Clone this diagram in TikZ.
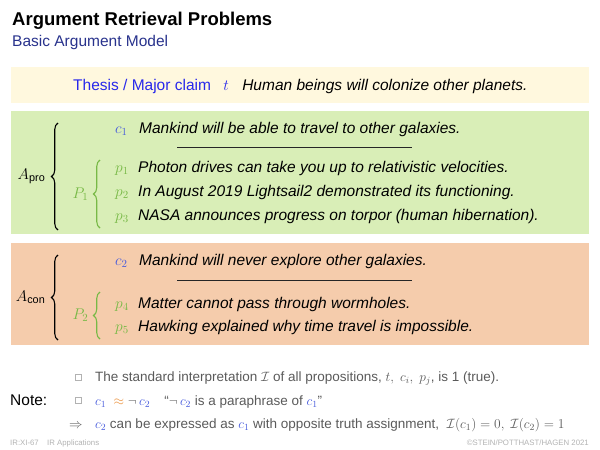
\documentclass[tikz,border=0pt]{standalone}
\usepackage{fix-cm}
\usepackage{amsmath, amssymb}
\usepackage{fontspec}
\setmainfont{Liberation Sans}
\setsansfont{Liberation Sans}
\usetikzlibrary{positioning, shadows, decorations.pathreplacing}

\definecolor{thesisbg}{RGB}{255,248,222}
\definecolor{probg}{RGB}{217,238,183}
\definecolor{conbg}{RGB}{245,204,172}
\definecolor{claimblue}{RGB}{40,40,235}
\definecolor{labelblue}{RGB}{70,90,220}
\definecolor{premgreen}{RGB}{120,185,70}
\definecolor{subblue}{RGB}{40,50,140}
\definecolor{notegray}{RGB}{90,90,90}
\definecolor{approxorange}{RGB}{235,150,70}

\begin{document}
\begin{tikzpicture}[x=1pt, y=-1pt,
    stmt/.style={anchor=base west, inner sep=0pt, font=\fontsize{15.5}{18}\selectfont\itshape},
    tag/.style={anchor=base west, inner sep=0pt, font=\fontsize{15.5}{18}\selectfont},
    grouplabel/.style={inner sep=0pt, font=\fontsize{15.5}{18}\selectfont},
    groupbrace/.style={decorate, decoration={brace, amplitude=6.5pt}, line width=1.1pt},
    notetext/.style={anchor=base west, inner sep=0pt, text=notegray,
                     font=\fontsize{13.5}{16}\selectfont},
    notebox/.style={draw=gray!60, fill=white, line width=0.5pt, minimum size=6pt, inner sep=0pt,
                    drop shadow={shadow xshift=0.9pt, shadow yshift=-0.9pt, fill=black!55, opacity=1}},
    foot/.style={inner sep=0pt, text=gray!60, font=\fontsize{7.8}{9}\selectfont},
    claimrule/.style={line width=1pt, black!85}
]
    \useasboundingbox (0,0) rectangle (600,450);

    % slide heading
    \node[anchor=base west, inner sep=0pt, font=\fontsize{18.5}{22}\selectfont\bfseries]
        (title) at (12,25) {Argument Retrieval Problems};
    \node[anchor=base west, inner sep=0pt, text=subblue, font=\fontsize{15.5}{18}\selectfont]
        (subtitle) at (12,46) {Basic Argument Model};

    % thesis
    \fill[thesisbg] (11,67) rectangle (589,103);
    \node[tag, text=claimblue] (thesis) at (73,90.5) {Thesis / Major claim};
    \node[tag, text=claimblue, base right=12pt of thesis] (t) {$t$};
    \node[stmt, base right=13pt of t] (thesistext) {Human beings will colonize other planets.};

    % pro argument
    \fill[probg] (11,111) rectangle (589,234);
    \node[tag, text=labelblue] (c1) at (115,133) {$c_1$};
    \node[stmt] (c1text) at (139,133) {Mankind will be able to travel to other galaxies.};
    \coordinate (c1rule west) at (177,147);
    \coordinate (c1rule east) at (412,147);
    \draw[claimrule] (c1rule west) -- (c1rule east);

    \node[tag, text=premgreen] (p1) at (115,172) {$p_1$};
    \node[stmt] (p1text) at (138,172) {Photon drives can take you up to relativistic velocities.};
    \node[tag, text=premgreen] (p2) at (115,196) {$p_2$};
    \node[stmt] (p2text) at (138,196) {In August 2019 Lightsail2 demonstrated its functioning.};
    \node[tag, text=premgreen] (p3) at (115,220) {$p_3$};
    \node[stmt] (p3text) at (138,220) {NASA announces progress on torpor (human hibernation).};

    \coordinate (P1 low) at (100,228);
    \coordinate (P1 high) at (100,160);
    \coordinate (P1 tip) at (93.5,194);
    \draw[groupbrace, premgreen] (P1 low) -- (P1 high);
    \node[grouplabel, text=premgreen, left=5pt of P1 tip] (P1) {$P_1$};

    \coordinate (Apro low) at (58,230);
    \coordinate (Apro high) at (58,123);
    \coordinate (Apro tip) at (51.5,176.5);
    \draw[groupbrace] (Apro low) -- (Apro high);
    \node[grouplabel, left=6pt of Apro tip] (Apro) {$A_{\text{pro}}$};

    % con argument
    \fill[conbg] (11,243) rectangle (589,345);
    \node[tag, text=labelblue] (c2) at (115,265) {$c_2$};
    \node[stmt] (c2text) at (139,265) {Mankind will never explore other galaxies.};
    \coordinate (c2rule west) at (177,280);
    \coordinate (c2rule east) at (412,280);
    \draw[claimrule] (c2rule west) -- (c2rule east);

    \node[tag, text=premgreen] (p4) at (115,308) {$p_4$};
    \node[stmt] (p4text) at (138,308) {Matter cannot pass through wormholes.};
    \node[tag, text=premgreen] (p5) at (115,331) {$p_5$};
    \node[stmt] (p5text) at (138,331) {Hawking explained why time travel is impossible.};

    \coordinate (P2 low) at (100,339);
    \coordinate (P2 high) at (100,292);
    \coordinate (P2 tip) at (93.5,315.5);
    \draw[groupbrace, premgreen] (P2 low) -- (P2 high);
    \node[grouplabel, text=premgreen, left=5pt of P2 tip] (P2) {$P_2$};

    \coordinate (Acon low) at (58,340);
    \coordinate (Acon high) at (58,255);
    \coordinate (Acon tip) at (51.5,297.5);
    \draw[groupbrace] (Acon low) -- (Acon high);
    \node[grouplabel, left=6pt of Acon tip] (Acon) {$A_{\text{con}}$};

    % notes
    \node[notetext, text=black, font=\fontsize{15.5}{18}\selectfont] (notelabel) at (10,405) {Note:};
    \node[notebox] (bullet1) at (78,377) {};
    \node[notetext] (note1) at (95,381)
        {The standard interpretation $\mathcal{I}$ of all propositions, $t,\ c_i,\ p_j$, is 1 (true).};
    \node[notebox] (bullet2) at (78,400) {};
    \node[notetext] (note2) at (95,405)
        {$\textcolor{labelblue}{c_1}\;\mathrel{\textcolor{approxorange}{\approx}}\neg\,\textcolor{labelblue}{c_2}$\hspace{14pt}“$\neg\,\textcolor{labelblue}{c_2}$ is a paraphrase of $\textcolor{labelblue}{c_1}$”};
    \node[notetext] (implies) at (69,428) {$\Rightarrow$};
    \node[notetext] (note3) at (95,428)
        {$\textcolor{labelblue}{c_2}$ can be expressed as $\textcolor{labelblue}{c_1}$ with opposite truth assignment, \ $\mathcal{I}(c_1)=0,\ \mathcal{I}(c_2)=1$};

    % footer
    \node[foot, anchor=base west] (footid) at (10,445) {IR:XI-67};
    \node[foot, base right=8pt of footid] (foottopic) {IR Applications};
    \node[foot, anchor=base east] (footcopy) at (589,445) {\textcopyright STEIN/POTTHAST/HAGEN 2021};
\end{tikzpicture}
\end{document}
